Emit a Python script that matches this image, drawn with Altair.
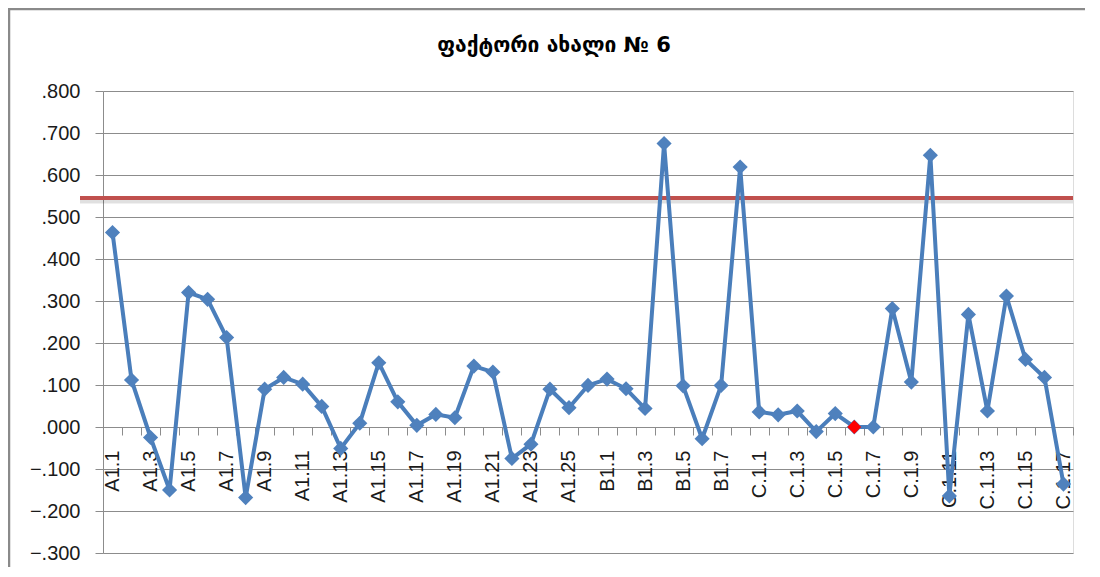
import altair as alt
import pandas as pd

TITLE = "ფაქტორი ახალი № 6"

cats_a = ["A1.1", "A1.2", "A1.3", "A1.4", "A1.5", "A1.6", "A1.7", "A1.8", "A1.9", "A1.10",
          "A1.11", "A1.12", "A1.13", "A1.14", "A1.15", "A1.16", "A1.17", "A1.18", "A1.19", "A1.20",
          "A1.21", "A1.22", "A1.23", "A1.24", "A1.25", "A1.26"]
vals_a = [0.463, 0.112, -0.025, -0.150, 0.320, 0.304, 0.213, -0.168, 0.090, 0.118,
          0.102, 0.049, -0.051, 0.009, 0.153, 0.060, 0.004, 0.030, 0.022, 0.145,
          0.131, -0.075, -0.041, 0.090, 0.046, 0.099]

cats_b = ["B1.1", "B1.2", "B1.3", "B1.4", "B1.5", "B1.6", "B1.7", "B1.8"]
vals_b = [0.114, 0.091, 0.044, 0.675, 0.098, -0.028, 0.099, 0.619]

cats_c = ["C.1.1", "C.1.2", "C.1.3", "C.1.4", "C.1.5", "C.1.6", "C.1.7", "C.1.8", "C.1.9",
          "C.1.10", "C.1.11", "C.1.12", "C.1.13", "C.1.14", "C.1.15", "C.1.16", "C.1.17"]
vals_c = [0.036, 0.029, 0.038, -0.011, 0.032, 0.000, 0.000, 0.282, 0.107,
          0.647, -0.164, 0.268, 0.038, 0.312, 0.161, 0.118, -0.136]

highlight = ["C.1.6"]
threshold = 0.545
y_ticks = [-0.3, -0.2, -0.1, 0.0, 0.1, 0.2, 0.3, 0.4, 0.5, 0.6, 0.7, 0.8]

categories = cats_a + cats_b + cats_c
values = vals_a + vals_b + vals_c
df = pd.DataFrame({"cat": categories, "val": values, "order": list(range(len(categories)))})
df["hl"] = df["cat"].isin(highlight)

FONT = "Liberation Sans"
GRID = "#8c8c8c"
BLUE = "#4A7EBB"
W, H = 970, 462
Y_MIN, Y_MAX = -0.3, 0.8
zero_px = H * Y_MAX / (Y_MAX - Y_MIN)

x_enc = alt.X(
    "cat:N",
    sort=categories,
    scale=alt.Scale(type="band", paddingInner=0, paddingOuter=0),
    axis=alt.Axis(
        title=None, orient="bottom", offset=-(H - zero_px), tickBand="extent",
        grid=False, domain=True, domainColor=GRID, domainWidth=1,
        tickColor=GRID, tickSize=8, tickWidth=1,
        labelAngle=-90, labelPadding=15, labelFont=FONT, labelFontSize=20,
        labelColor="#1a1a1a", labelOverlap=False, labelBound=False,
        labelExpr="parseInt(slice(datum.label, lastindexof(datum.label, '.') + 1)) % 2 == 1 ? datum.label : ''",
    ),
)
y_enc = alt.Y(
    "val:Q",
    scale=alt.Scale(domain=[Y_MIN, Y_MAX], nice=False, zero=False),
    axis=alt.Axis(
        title=None, values=y_ticks, grid=True, gridColor=GRID, gridWidth=1,
        domain=True, domainColor=GRID, tickColor=GRID, tickSize=8,
        labelFont=FONT, labelFontSize=20, labelColor="#1a1a1a", labelPadding=15,
        labelExpr="replace(format(datum.value, '.3f'), '0.', '.')",
    ),
)

one = pd.DataFrame({"k": [0]})
border_top = alt.Chart(one).mark_rule(color="#8a8a8a", strokeWidth=2.5).encode(
    x=alt.value(-95), x2=alt.value(W + 18), y=alt.value(-82))
border_left = alt.Chart(one).mark_rule(color="#8a8a8a", strokeWidth=2.5).encode(
    x=alt.value(-94), y=alt.value(-83), y2=alt.value(H + 16))

title = alt.Chart(pd.DataFrame({"t": [TITLE]})).mark_text(
    font="DejaVu Sans", fontSize=21, fontWeight="bold", color="#000000",
    align="center", baseline="alphabetic").encode(
    text="t:N", x=alt.value(451), y=alt.value(-39))

shadow = alt.Chart(one).mark_rule(color="#000000", opacity=0.12, strokeWidth=5, yOffset=3).encode(
    y=alt.datum(threshold), x=alt.value(-23), x2=alt.value(W))
red_line = alt.Chart(one).mark_rule(color="#C0504D", strokeWidth=4).encode(
    y=alt.datum(threshold), x=alt.value(-23), x2=alt.value(W))

base = alt.Chart(df)
line = base.mark_line(color=BLUE, strokeWidth=4).encode(x=x_enc, y=y_enc, order=alt.Order("order:Q"))
pts = base.mark_point(shape="diamond", filled=True, size=230, color="#4F81BD", opacity=1).encode(x=x_enc, y=y_enc)
red_pt = base.transform_filter("datum.hl").mark_point(
    shape="diamond", filled=True, size=190, color="#FF0000", opacity=1).encode(x=x_enc, y=y_enc)

chart = alt.layer(border_top, border_left, title, shadow, red_line, line, pts, red_pt).properties(
    width=W, height=H,
    autosize=alt.AutoSizeParams(type="none"),
    padding={"left": 95, "top": 83, "right": 12, "bottom": 14},
).configure_view(stroke=None).configure(background="white")

chart.save("out.html", embed_options={"renderer": "svg", "actions": False})
